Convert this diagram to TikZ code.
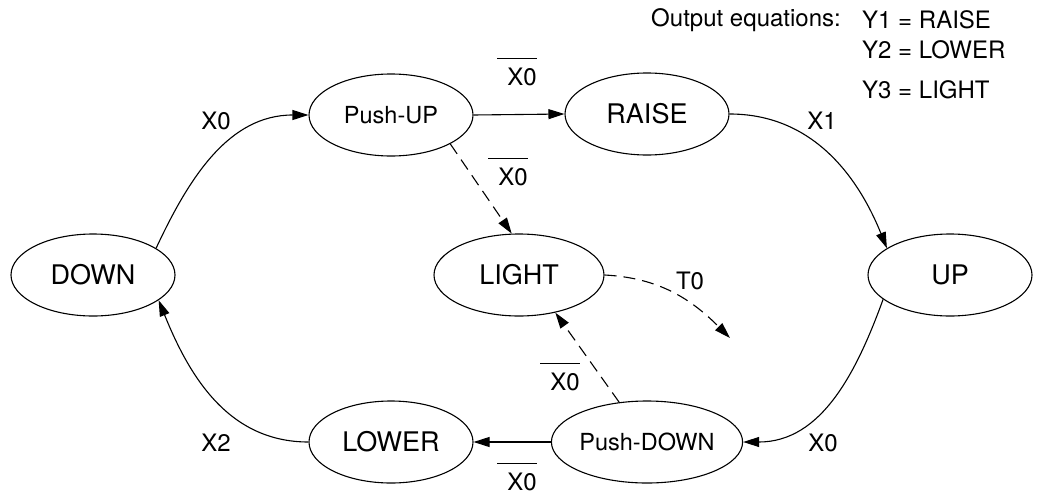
\documentclass[tikz,border=0pt]{standalone}
\usepackage{fontspec}
\setmainfont{TeX Gyre Heros}
\usetikzlibrary{shapes.geometric,arrows.meta}
\begin{document}
\begin{tikzpicture}[x=1pt,y=1pt,
  state/.style={ellipse,draw,line width=1.1pt,inner sep=0pt,minimum width=164pt,minimum height=82pt,font=\fontsize{27}{30}\selectfont},
  pstate/.style={state,font=\fontsize{23.5}{26}\selectfont},
  edge/.style={line width=1.1pt,-{Triangle[length=16pt,width=10pt]}},
  dedge/.style={edge,dash pattern=on 12pt off 7pt},
  lbl/.style={inner sep=0pt,font=\fontsize{24}{28}\selectfont},
  bar/.style={line width=1.1pt}]
\useasboundingbox (0,0) rectangle (1051,-495);
% states
\node[pstate] (pushup)   at (391,-115) {Push-UP};
\node[state]  (raise)    at (647,-114) {RAISE};
\node[state]  (down)     at (93,-275)  {DOWN};
\node[state,minimum width=170pt] (light) at (519,-275) {LIGHT};
\node[state]  (up)       at (950,-275) {UP};
\node[state]  (lower)    at (391,-442) {LOWER};
\node[pstate] (pushdown) at (647,-442) {Push-DOWN};
\coordinate (tend) at (730,-338);
% connectors
\draw[edge] (down.23) to[out=65,in=180] (pushup.west);
\draw[edge] (pushup.east) -- (raise.west);
\draw[dedge] (pushup.-26) -- (light.100);
\draw[edge] (raise.east) to[out=0,in=112] (up.157);
\draw[edge] (up.200) to[out=-110,in=0] (pushdown.east);
\draw[edge] (pushdown.west) -- (lower.east);
\draw[dedge] (pushdown.125) -- (light.-46);
\draw[edge] (lower.west) to[out=180,in=-68] (down.-21);
\draw[dedge] (light.east) to[out=-3,in=135] (tend);
% labels
\node[lbl] (lx0a) at (216,-121) {X0};
\node[lbl] (lnx0a) at (522,-77) {X0};
\node[lbl] (lnx0b) at (513,-177) {X0};
\node[lbl] (lx1) at (822,-121) {X1};
\node[lbl] (lt0) at (690,-281) {T0};
\node[lbl] (lnx0c) at (565,-382) {X0};
\node[lbl] (lx0b) at (823,-443) {X0};
\node[lbl] (lx2) at (216,-443) {X2};
\node[lbl] (lnx0d) at (522,-482) {X0};
\foreach \n in {lnx0a,lnx0b,lnx0c,lnx0d}{
  \draw[bar] ([xshift=-10pt,yshift=9pt]\n.north west) -- ([yshift=9pt]\n.north east);
}
% output equations
\node[lbl,anchor=east] (oeq) at (841,-20) {Output equations:};
\node[lbl,anchor=west] (y1) at (862,-20) {Y1 = RAISE};
\node[lbl,anchor=west] (y2) at (862,-50) {Y2 = LOWER};
\node[lbl,anchor=west] (y3) at (862,-90) {Y3 = LIGHT};
\end{tikzpicture}
\end{document}
